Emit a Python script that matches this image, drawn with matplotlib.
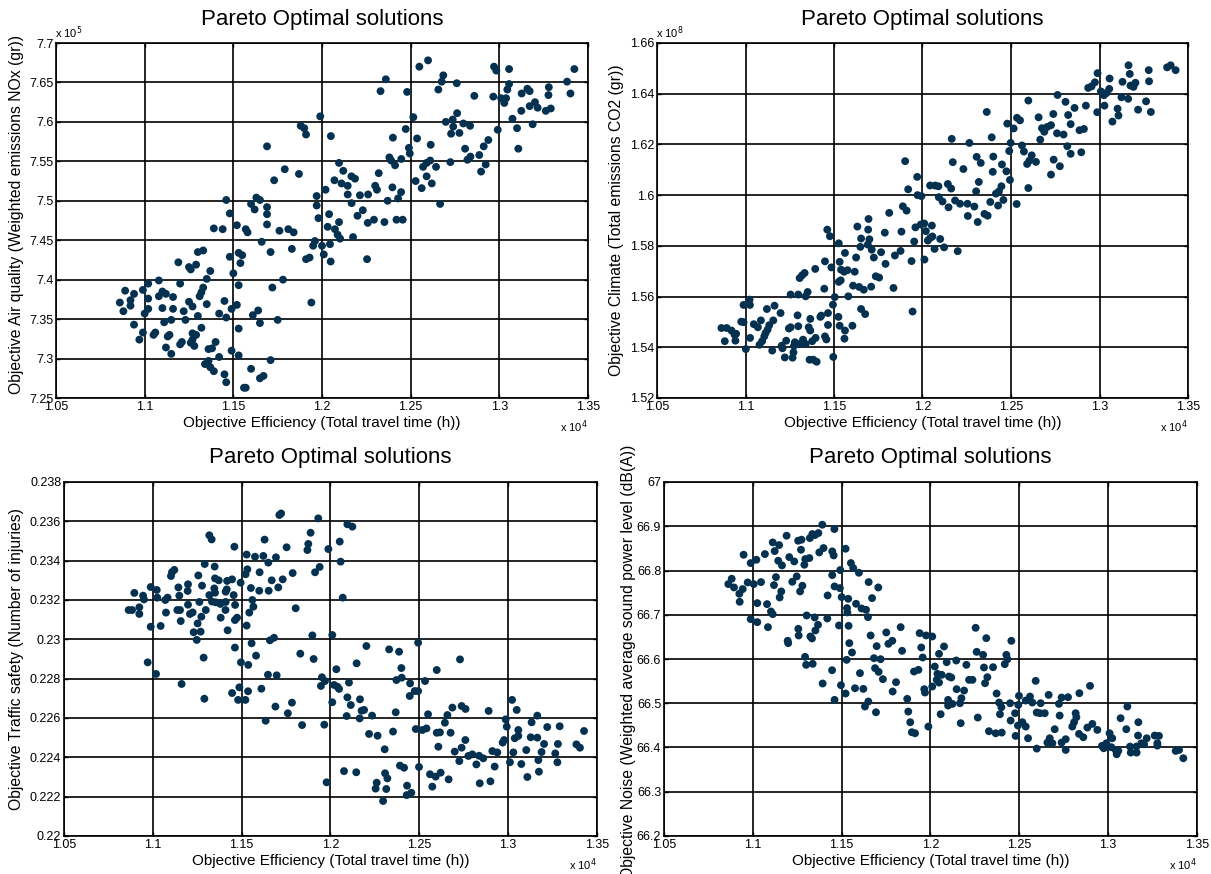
import numpy as np
import matplotlib
matplotlib.use("Agg")
import matplotlib.pyplot as plt
from matplotlib.ticker import FormatStrFormatter

plt.rcParams['font.family'] = ['Liberation Sans', 'DejaVu Sans']

# ---------------- data (x in units of 1e4 h) ----------------
# Panel 1: Air quality (NOx, units of 1e5 gr)
air_x = [1.199,1.188,1.190,1.191,1.169,1.179,1.187,1.173,1.197,
         1.146,1.148,1.139,1.144,1.152,1.157,1.158,1.160,1.163,1.165,1.162,1.169,1.169,1.169,1.166,1.171,
         1.176,1.181,1.184,1.183,1.196,1.195,1.197,1.198,1.200,1.191,1.193,1.201,1.178,1.172,1.194,1.175,
         1.171,1.165,1.161,1.164,1.160,1.165,1.167,1.156,1.157,1.148,1.153,1.155,1.154,1.150,1.153,1.152,
         1.149,1.146,1.153,1.145,1.142,1.149,1.153,1.145,1.146,1.142,1.140,1.138,1.136,1.134,1.136,1.137,
         1.139,1.132,1.135,1.130,1.133,1.129,1.125,1.126,1.119,1.137,1.135,1.133,1.132,1.131,1.120,1.130,
         1.127,1.125,1.123,1.122,1.127,1.129,1.127,1.126,1.128,1.120,1.121,1.116,1.116,1.115,1.111,1.110,
         1.112,1.110,1.108,1.108,1.102,1.099,1.102,1.102,1.100,1.094,1.089,1.092,1.092,1.086,1.088,1.094,
         1.099,1.097,1.105,1.106,1.113,1.114,1.112,1.115,
         1.205,1.202,1.2096,1.207,1.212,1.211,1.2145,1.2145,1.2166,1.2186,1.2167,1.2214,1.226,1.232,1.230,
         1.231,1.233,1.236,1.248,1.240,1.2472,1.2515,1.249,1.2495,1.238,1.239,1.2412,1.2447,1.2397,1.237,
         1.2446,1.2429,1.220,1.223,1.2258,1.2293,1.2352,1.242,1.2455,1.204,1.2032,1.2073,1.2096,1.2088,
         1.2102,1.2175,1.2045,1.2049,1.2254,1.2549,1.2598,1.2656,1.2675,1.2684,1.276,1.2536,1.2613,1.2528,
         1.2562,1.257,1.259,1.261,1.259,1.2619,1.2643,1.2666,1.2698,1.2737,1.2762,1.274,1.2728,1.2775,
         1.2797,1.2835,1.2724,1.2807,1.282,1.2837,1.2859,1.2887,1.2912,1.2938,1.2897,1.2923,1.297,1.2983,
         1.2966,1.301,1.3028,1.3038,1.3055,1.3045,1.3055,1.2991,1.3074,1.310,1.3107,1.3126,1.3158,1.3171,
         1.3124,1.3171,1.3201,1.3216,1.3188,1.3262,1.3290,1.3279,1.3277,1.3382,1.3401,1.3423]
air_y = [7.607,7.595,7.592,7.584,7.569,7.540,7.534,7.526,7.506,
         7.501,7.484,7.465,7.464,7.469,7.464,7.460,7.496,7.504,7.501,7.489,7.492,7.483,7.470,7.448,7.435,
         7.462,7.464,7.460,7.439,7.449,7.443,7.494,7.478,7.443,7.426,7.428,7.432,7.400,7.390,7.371,7.349,
         7.298,7.345,7.355,7.361,7.287,7.275,7.278,7.263,7.263,7.429,7.434,7.431,7.421,7.408,7.393,7.368,
         7.363,7.352,7.338,7.373,7.357,7.310,7.304,7.280,7.270,7.302,7.321,7.313,7.312,7.293,7.297,7.289,
         7.284,7.339,7.369,7.435,7.437,7.419,7.416,7.413,7.422,7.411,7.401,7.390,7.384,7.379,7.395,7.354,
         7.366,7.372,7.349,7.360,7.332,7.330,7.324,7.320,7.316,7.318,7.321,7.363,7.378,7.349,7.346,7.364,
         7.382,7.385,7.379,7.399,7.395,7.387,7.376,7.363,7.357,7.382,7.386,7.374,7.367,7.371,7.360,7.343,
         7.333,7.324,7.330,7.333,7.328,7.330,7.314,7.306,
         7.582,7.514,7.548,7.526,7.538,7.522,7.519,7.508,7.531,7.528,7.497,7.507,7.508,7.535,7.519,
         7.514,7.639,7.654,7.638,7.580,7.591,7.606,7.567,7.560,7.555,7.551,7.545,7.553,7.517,7.500,
         7.511,7.503,7.481,7.488,7.472,7.476,7.473,7.476,7.476,7.483,7.467,7.464,7.473,7.457,
         7.452,7.454,7.445,7.423,7.426,7.670,7.678,7.641,7.651,7.659,7.649,7.579,7.571,7.525,
         7.516,7.543,7.548,7.551,7.531,7.522,7.543,7.496,7.600,7.603,7.611,7.594,7.585,7.586,
         7.598,7.595,7.549,7.566,7.552,7.556,7.633,7.558,7.569,7.577,7.537,7.546,7.670,7.665,
         7.632,7.630,7.624,7.630,7.667,7.641,7.648,7.590,7.604,7.592,7.566,7.636,7.642,7.639,
         7.614,7.620,7.625,7.618,7.597,7.614,7.617,7.644,7.634,7.651,7.636,7.667]

# Panel 2: Climate (CO2, units of 1e8 gr)
co2_x = [1.1902,1.197,1.1919,1.1972,1.1994,1.1889,1.191,1.1812,1.1695,1.1632,1.1693,1.1653,1.170,1.1787,
         1.1881,1.196,1.199,1.201,1.2019,1.1953,1.2011,1.1938,1.1876,1.1844,1.1766,1.1725,1.1713,1.1649,
         1.1691,1.1625,1.1791,1.1736,1.1755,1.171,1.1668,1.1642,1.1608,1.1836,1.1617,1.1562,1.1527,1.1462,
         1.1477,1.1449,1.1485,1.1532,1.154,1.1557,1.1576,1.1527,1.1538,1.1394,1.1334,1.132,1.1306,1.1445,
         1.1351,1.134,1.1298,1.1255,1.1504,1.1494,1.1581,1.1653,1.1676,1.1466,1.1423,1.1428,1.1525,1.1466,
         1.1532,1.1562,1.1604,1.1559,1.1944,1.1366,1.1357,1.1366,1.1294,1.1298,1.1255,1.1245,1.1198,1.1164,
         1.1121,1.1157,1.1134,1.1125,1.1113,1.1087,1.1047,1.107,1.1106,1.1094,1.1079,1.1025,1.0989,1.1023,
         1.0976,1.0989,1.0864,1.0894,1.0921,1.0938,1.0947,1.0883,1.0943,1.1026,1.1002,1.1151,1.1204,1.1209,
         1.123,1.1279,1.1274,1.1306,1.1325,1.134,1.1222,1.1266,1.1271,1.1377,1.1396,1.1449,1.1457,1.1362,
         1.1383,1.1402,1.1496,
         1.2043,1.2071,1.209,1.2143,1.2162,1.2092,1.2113,1.2147,1.2184,1.2212,1.2254,1.2293,1.2256,1.2312,
         1.235,1.2368,1.2383,1.2427,1.2457,1.2415,1.2432,1.2446,1.2303,1.2318,1.2494,1.2532,1.2598,1.2171,
         1.2231,1.2165,1.2265,1.2306,1.2329,1.2363,1.2391,1.240,1.2397,1.2449,1.2474,1.2479,1.2515,1.2498,
         1.249,1.2534,1.2551,1.2598,1.2562,1.2573,1.2617,1.2604,1.2591,1.2641,1.2656,1.2665,1.2675,1.2688,
         1.2705,1.2726,1.2739,1.2763,1.276,1.2797,1.2741,1.2726,1.2776,1.2808,1.2823,1.2837,1.2859,1.2818,
         1.2837,1.2897,1.2887,1.2912,1.2923,1.2936,1.2955,1.2974,1.2989,1.2987,1.3008,1.3025,1.304,1.3055,
         1.3057,1.3028,1.3073,1.3102,1.3107,1.3124,1.3130,1.3164,1.3171,1.3162,1.3175,1.3192,1.3203,1.3218,
         1.3263,1.3278,1.328,1.3290,1.3382,1.3402,1.343,
         1.2053,1.2043,1.203,1.2056,1.21,1.2068,1.2122,1.2199]
co2_y = [1.6134,1.6072,1.6023,1.600,1.5996,1.5956,1.5939,1.593,1.5906,1.5876,1.5864,1.5829,1.5826,1.5852,
         1.5856,1.5873,1.5884,1.5888,1.5858,1.5817,1.5746,1.574,1.578,1.5762,1.5775,1.5754,1.5785,1.5796,
         1.5805,1.5754,1.5729,1.568,1.5675,1.5639,1.5627,1.5638,1.5643,1.5634,1.5698,1.5772,1.581,1.5864,
         1.5838,1.5739,1.5715,1.5737,1.5706,1.5698,1.5704,1.5658,1.5664,1.5709,1.5693,1.5684,1.5673,1.5631,
         1.5618,1.5601,1.5608,1.5608,1.5598,1.5568,1.5601,1.5551,1.5531,1.5535,1.552,1.5525,1.552,1.5488,
         1.5485,1.5466,1.5485,1.5434,1.5541,1.5512,1.5479,1.5466,1.5526,1.5483,1.5479,1.5474,1.5535,1.5564,
         1.5551,1.5506,1.5487,1.547,1.5456,1.5506,1.5491,1.5479,1.5443,1.5424,1.541,1.5567,1.5567,1.5588,
         1.5501,1.5499,1.5476,1.5476,1.5466,1.545,1.5453,1.5424,1.5426,1.5437,1.5393,1.5387,1.5406,1.5396,
         1.5426,1.542,1.5406,1.5413,1.543,1.5413,1.536,1.5359,1.538,1.5424,1.5437,1.5443,1.5431,1.5351,
         1.5351,1.5343,1.5362,
         1.6038,1.6038,1.6035,1.6044,1.6026,1.5992,1.5975,1.5952,1.5979,1.5966,1.5966,1.5955,1.5918,1.5894,
         1.5926,1.5919,1.5973,1.5959,1.5981,1.6006,1.6015,1.6035,1.6015,1.6052,1.606,1.5965,1.6028,1.6130,
         1.6103,1.6222,1.6206,1.6151,1.6127,1.6328,1.6228,1.6152,1.6092,1.6121,1.6094,1.6282,1.6263,1.6206,
         1.6174,1.6305,1.6295,1.6373,1.6196,1.6172,1.6157,1.6136,1.6123,1.6131,1.6307,1.6219,1.6264,1.625,
         1.6269,1.6276,1.632,1.6395,1.6244,1.6239,1.614,1.6081,1.6114,1.6368,1.6316,1.628,1.6344,1.6193,
         1.6163,1.6169,1.6256,1.6261,1.6353,1.6423,1.6429,1.6445,1.6481,1.6327,1.6409,1.6394,1.6403,1.6419,
         1.646,1.6353,1.629,1.6341,1.6314,1.6386,1.6447,1.6512,1.6478,1.638,1.6432,1.6427,1.6443,1.6337,
         1.637,1.6493,1.6449,1.6328,1.6504,1.6512,1.6493,
         1.588,1.5831,1.5821,1.5837,1.5827,1.5788,1.5794,1.5779]

# Panel 3: Traffic safety (number of injuries)
saf_x = [1.1712,1.1722,1.1931,1.1888,1.1875,1.187,1.1988,1.1939,1.1913,1.1787,1.1753,1.1693,1.165,1.1629,
         1.1622,1.1575,1.1528,1.1532,1.1522,1.1601,1.1459,1.1318,1.1331,1.1292,1.1348,1.1256,1.135,1.1371,
         1.1418,1.1446,1.1494,1.1669,1.1731,1.1706,1.1652,1.1599,1.1552,1.1108,1.1121,1.1102,1.1277,1.1198,
         1.1144,1.1196,1.1149,1.1083,1.107,1.1074,1.0988,1.1022,1.1025,1.0945,1.095,1.0896,1.0924,1.0864,
         1.0883,1.0924,1.0988,1.1044,1.1138,1.1153,1.1198,1.1209,1.1224,1.1157,1.1262,1.1298,1.1273,1.1252,
         1.123,1.1269,1.1247,1.1333,1.1354,1.1346,1.1318,1.135,1.1380,1.141,1.141,1.1416,1.1455,1.1463,
         1.1409,1.1382,1.1462,1.1474,1.1543,1.1566,1.156,1.1528,1.1421,1.1556,1.1462,1.1581,1.1659,1.1682,
         1.1804,1.1898,1.1830,1.1905,1.1496,1.1537,1.1648,1.1697,1.1286,1.0971,1.1018,1.1162,1.1487,1.1446,
         1.1536,1.148,1.1521,1.1611,1.129,1.169,1.1783,1.176,1.1635,1.184,1.1965,1.1952,1.1969,1.1946,
         1.1978,
         1.2095,1.2123,1.2052,1.2057,1.2069,1.201,1.2033,1.2020,1.2039,1.2048,1.2104,1.201,1.2147,1.2202,
         1.2095,1.2114,1.2166,1.2175,1.2189,1.2091,1.2164,1.2234,1.233,1.2386,1.2399,1.2401,1.2371,1.2448,
         1.2446,1.2474,1.2493,1.2493,1.2532,1.2367,1.2598,1.2729,1.2217,1.2265,1.2352,1.2305,1.248,1.2517,
         1.254,1.2549,1.2598,1.2616,1.2644,1.2658,1.2686,1.2676,1.2607,1.2699,1.2738,1.276,1.2759,1.2738,
         1.2725,1.2776,1.2798,1.2836,1.286,1.2821,1.2890,1.2911,1.2939,1.2924,1.2840,1.2900,1.2969,1.2977,
         1.2986,1.2992,1.3022,1.3048,1.301,1.3029,1.3037,1.3057,1.3057,1.3074,1.3102,1.3108,1.3127,1.3164,
         1.3132,1.3164,1.317,1.3173,1.3188,1.3202,1.3220,1.3265,1.3277,1.3280,1.3290,1.3384,1.3404,1.3427,
         1.2076,1.2145,1.226,1.2254,1.2307,1.2320,1.2314,1.2296,1.2391,1.2414,1.2498,1.2431,1.2429,1.2455,
         1.256,1.2592,1.2620,1.2573,1.2665]
saf_y = [0.23632,0.23640,0.23615,0.23542,0.23485,0.23454,0.23459,0.23368,0.23341,0.23337,0.23468,0.23417,
         0.23390,0.23507,0.23424,0.23420,0.23431,0.23356,0.23331,0.23341,0.23471,0.23529,0.23508,0.23383,
         0.23370,0.23325,0.23310,0.23300,0.23297,0.23305,0.23288,0.23300,0.23305,0.23264,0.23247,0.23247,
         0.23261,0.23342,0.23353,0.23322,0.23273,0.23280,0.23264,0.23246,0.23222,0.23212,0.23200,0.23136,
         0.23266,0.23251,0.23212,0.23222,0.23203,0.23236,0.23163,0.23149,0.23149,0.23129,0.23064,0.23068,
         0.23149,0.23149,0.23176,0.23129,0.23137,0.23093,0.23190,0.23149,0.23115,0.23081,0.23036,0.23039,
         0.22997,0.23192,0.23188,0.23259,0.23225,0.23237,0.23180,0.23190,0.23242,0.23254,0.23225,0.23175,
         0.23149,0.23110,0.23098,0.23110,0.23136,0.23166,0.23200,0.23070,0.23046,0.22980,0.22958,0.22917,
         0.22995,0.23008,0.23158,0.23020,0.22927,0.22900,0.22883,0.22870,0.22820,0.22817,0.22907,0.22883,
         0.22824,0.22773,0.22756,0.22727,0.22736,0.22692,0.22692,0.22749,0.22698,0.22658,0.22678,0.22624,
         0.22586,0.22564,0.22566,0.22807,0.22788,0.22763,0.22273,
         0.23585,0.23573,0.23497,0.23395,0.23212,0.23022,0.22848,0.22768,0.22759,0.22748,0.22780,0.22680,
         0.22878,0.22966,0.22705,0.22666,0.22695,0.22637,0.22641,0.22610,0.22598,0.22612,0.22949,0.22937,
         0.22854,0.22805,0.22793,0.22776,0.22712,0.22737,0.22737,0.22983,0.22788,0.22629,0.22844,0.22898,
         0.22519,0.22510,0.22531,0.22441,0.22544,0.22539,0.22547,0.22619,0.22525,0.22527,0.22576,0.22615,
         0.22653,0.22525,0.22454,0.22429,0.22661,0.22646,0.22488,0.22449,0.22381,0.22407,0.22415,0.22408,
         0.22395,0.22364,0.22636,0.22432,0.22425,0.22353,0.22268,0.22278,0.22475,0.22488,0.22593,0.22556,
         0.22692,0.22641,0.22375,0.22425,0.22497,0.22509,0.22539,0.22366,0.22437,0.22300,0.22502,0.22500,
         0.22578,0.22612,0.22386,0.22327,0.22427,0.22468,0.22554,0.22420,0.22375,0.22468,0.22558,0.22466,
         0.22449,0.22534,
         0.22330,0.22324,0.22271,0.22241,0.22319,0.22293,0.22239,0.22178,0.22358,0.22347,0.22351,0.22256,
         0.22208,0.22220,0.22314,0.22302,0.22322,0.22251,0.22288]

# Panel 4: Noise (weighted average sound power level, dB(A))
noi_x = [1.1391,1.1459,1.1335,1.135,1.1369,1.1321,1.1255,1.1274,1.1190,1.1112,1.1148,1.1123,1.1068,1.0948,
         1.102,1.0988,1.1143,1.1164,1.1205,1.1233,1.1271,1.1295,1.1318,1.129,1.1374,1.1398,1.1447,1.1455,
         1.1522,1.1552,1.1565,1.1597,1.1492,1.1447,1.1247,1.1130,1.1046,1.1005,1.0971,1.0881,1.0862,1.0894,
         1.0943,1.0924,1.0926,1.1119,1.116,1.1151,1.1222,1.1279,1.1266,1.1421,1.146,1.149,1.15,1.1537,
         1.1581,1.153,1.1532,1.1612,1.1637,1.1648,1.1652,1.1706,1.1671,1.1025,1.108,1.1102,1.1112,1.0988,
         1.1025,1.1085,1.1303,1.1348,1.1367,1.1352,1.1324,1.1333,1.1256,1.1258,1.1196,1.1199,1.1419,1.1485,
         1.1539,1.1543,1.1558,1.1528,1.1294,1.13,1.1337,1.1446,1.1393,1.1496,1.146,1.1522,1.1575,1.1622,
         1.1603,1.1663,1.1697,1.1682,1.1719,1.1688,1.1708,1.1732,1.1751,1.1763,1.1785,1.1832,1.184,1.1806,
         1.1787,1.165,1.1631,1.1693,1.1869,1.1875,1.1886,1.1895,1.1913,1.1988,1.1907,1.1932,1.1939,1.1948,
         1.1956,1.1975,1.1965,1.1969,
         1.2010,1.2254,1.2314,1.2455,1.2076,1.2048,1.226,1.2296,1.2427,1.2433,1.2418,1.2091,1.2145,1.2202,
         1.2301,1.2352,1.2024,1.2039,1.2063,1.2104,1.2117,1.2048,1.2035,1.201,1.2217,1.2236,1.2320,1.2307,
         1.2147,1.2189,1.2099,1.2099,1.2123,1.2174,1.2166,1.2057,1.2170,1.2266,1.2372,1.2386,1.2399,1.2391,
         1.2448,1.2476,1.2451,1.2329,1.2367,1.2401,1.2479,1.2492,1.2498,1.2494,1.2536,1.2560,1.2573,1.2517,
         1.2536,1.2592,1.262,1.2598,1.2616,1.2643,1.2665,1.2549,1.2598,1.2658,1.2671,1.2686,1.2699,1.2727,
         1.2723,1.2738,1.2774,1.2761,1.2738,1.2761,1.2798,1.2808,1.2821,1.2817,1.2838,1.2898,1.2836,1.2860,
         1.2883,1.2911,1.2939,1.2965,1.2975,1.299,1.3008,1.3023,1.3018,1.3042,1.3048,1.3057,1.307,1.3102,
         1.3108,1.3123,1.3127,1.3160,1.3159,1.3170,1.3168,1.3187,1.3202,1.3217,1.3262,1.3286,1.3277,1.3277,
         1.338,1.3399,1.3423]
noi_y = [66.9035,66.8937,66.8824,66.8801,66.8846,66.8733,66.8673,66.8696,66.8786,66.8635,66.8575,66.8439,
         66.8371,66.8356,66.8243,66.8168,66.822,66.8115,66.8303,66.8205,66.8469,66.8258,66.8281,66.813,
         66.8409,66.8507,66.8432,66.8341,66.8492,66.8168,66.8055,66.7949,66.801,66.7896,66.7866,66.7851,
         66.7738,66.7693,66.773,66.7813,66.7693,66.7617,66.758,66.7474,66.7293,66.767,66.7527,66.7391,
         66.7745,66.7655,66.7527,66.7436,66.764,66.7602,66.7399,66.7361,66.7248,66.715,66.7052,66.7142,
         66.7112,66.6946,66.7738,66.7617,66.7376,66.7263,66.724,66.7074,66.7014,66.6901,66.6833,66.672,
         66.6984,66.6939,66.6773,66.6645,66.6509,66.6464,66.6682,66.6532,66.6411,66.6358,66.6916,66.6758,
         66.675,66.6358,66.6147,66.5981,66.6049,66.5868,66.5891,66.5747,66.5446,66.5408,66.5076,66.522,
         66.534,66.5325,66.568,66.6532,66.629,66.6019,66.5996,66.5793,66.571,66.5544,66.66,66.6343,
         66.6411,66.672,66.6185,66.5476,66.5265,66.5039,66.4926,66.4797,66.5099,66.4812,66.4571,66.4345,
         66.4322,66.4473,66.5717,66.5755,66.6584,66.626,66.6034,66.6532,66.5318,66.5242,
         66.6509,66.6705,66.6471,66.6411,66.6283,66.6117,66.6162,66.6094,66.6094,66.5996,66.5883,66.5928,
         66.5966,66.5868,66.5808,66.5815,66.583,66.5664,66.5642,66.5604,66.5582,66.5468,66.5529,66.5378,
         66.5529,66.5529,66.5589,66.5453,66.5318,66.5287,66.5076,66.4948,66.4986,66.5114,66.5001,66.4752,
         66.4549,66.4677,66.522,66.5016,66.4911,66.4752,66.5001,66.4775,66.4609,66.4368,66.4322,66.4337,
         66.4262,66.4496,66.5167,66.4963,66.5061,66.5152,66.5016,66.4571,66.4473,66.5506,66.5001,66.479,
         66.4775,66.4775,66.5189,66.4209,66.3975,66.4111,66.4209,66.4096,66.4413,66.4722,66.4986,66.5129,
         66.5137,66.4187,66.4111,66.3945,66.4473,66.4571,66.4684,66.4775,66.5227,66.5393,66.4307,66.4232,
         66.445,66.4533,66.4398,66.4036,66.3983,66.4096,66.4322,66.4209,66.4006,66.3945,66.3847,66.3923,
         66.4662,66.4413,66.4926,66.4021,66.3885,66.3885,66.4021,66.4571,66.427,66.4096,66.4073,66.4209,
         66.427,66.4262,66.4096,66.4043,66.3923,66.3945,66.3757]

x_ticks = [1.05, 1.1, 1.15, 1.2, 1.25, 1.3, 1.35]
air_ticks = [7.25, 7.3, 7.35, 7.4, 7.45, 7.5, 7.55, 7.6, 7.65, 7.7]
co2_ticks = [1.52, 1.54, 1.56, 1.58, 1.60, 1.62, 1.64, 1.66]
saf_ticks = [0.22, 0.222, 0.224, 0.226, 0.228, 0.23, 0.232, 0.234, 0.236, 0.238]
noi_ticks = [66.2, 66.3, 66.4, 66.5, 66.6, 66.7, 66.8, 66.9, 67.0]

title = "Pareto Optimal solutions"
xlabel = "Objective Efficiency (Total travel time (h))"
ylabels = ["Objective Air quality (Weighted emissions NOx (gr))",
           "Objective Climate (Total emissions CO2 (gr))",
           "Objective Traffic safety (Number of injuries)",
           "Objective Noise (Weighted average sound power level (dB(A))"]

# ---------------- layout ----------------
W, H = 1211, 874
fig = plt.figure(figsize=(W / 100, H / 100), dpi=100)
fig.patch.set_facecolor('white')

# axes boxes in pixels: left, top, right, bottom
boxes = [(56, 43, 588, 398), (657, 43, 1188, 398),
         (64, 482, 597, 836), (664, 482, 1197, 836)]
ylabel_x = [17, 617, 17, 628]
ylabel_y = [215, 220, 659, 662]
datasets = [(air_x, air_y, air_ticks), (co2_x, co2_y, co2_ticks),
            (saf_x, saf_y, saf_ticks), (noi_x, noi_y, noi_ticks)]
dot = '#053150'

for i, ((l, t, r, b), (xs, ys, yt)) in enumerate(zip(boxes, datasets)):
    ax = fig.add_axes([l / W, 1 - b / H, (r - l) / W, (b - t) / H])
    ax.scatter(xs, ys, s=32, color=dot, edgecolors='none', zorder=3)
    ax.set_xlim(1.05, 1.35)
    ax.set_ylim(yt[0], yt[-1])
    ax.set_xticks(x_ticks)
    ax.set_yticks(yt)
    ax.xaxis.set_major_formatter(FormatStrFormatter('%g'))
    ax.yaxis.set_major_formatter(FormatStrFormatter('%g'))
    ax.grid(True, color='black', linewidth=1.2, linestyle='-', zorder=1)
    ax.set_axisbelow(True)
    for sp in ax.spines.values():
        sp.set_linewidth(1.2)
        sp.set_color('black')
    ax.tick_params(direction='in', length=3, width=1, labelsize=9, pad=2,
                   top=True, right=True, colors='black')
    cx = (l + r) / 2
    fig.text(cx / W, 1 - (t - 24) / H, title, ha='center', va='center', fontsize=16)
    fig.text(cx / W, 1 - (b + 25) / H, xlabel, ha='center', va='center', fontsize=11)
    fig.text(ylabel_x[i] / W, 1 - ylabel_y[i] / H, ylabels[i], rotation=90,
             ha='center', va='center', fontsize=11.3)
    fig.text(r / W, 1 - (b + 29) / H, r'x 10$^{4}$', ha='right', va='center', fontsize=8)
    if i == 0:
        fig.text((l - 1) / W, 1 - (t - 2) / H, r'x 10$^{5}$', ha='left', va='bottom', fontsize=8)
    if i == 1:
        fig.text((l - 1) / W, 1 - (t - 2) / H, r'x 10$^{8}$', ha='left', va='bottom', fontsize=8)

fig.savefig('out.png', dpi=100)
